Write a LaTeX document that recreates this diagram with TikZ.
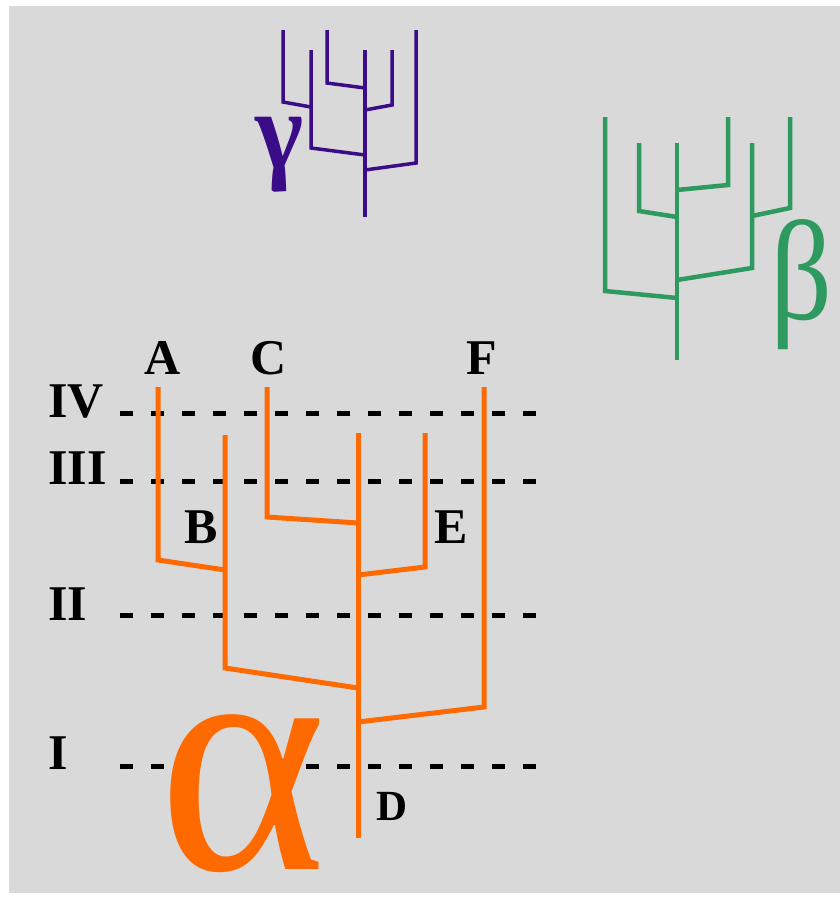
\documentclass[tikz,border=0pt]{standalone}
\usepackage{fontspec}
\setmainfont{Liberation Serif}
\usepackage{graphicx}
\definecolor{bg}{HTML}{D9D9DA}
\definecolor{orng}{HTML}{FF6A00}
\definecolor{grn}{HTML}{2E9A60}
\definecolor{purp}{HTML}{3A0C88}
\tikzset{
  lab/.style={font=\fontsize{50}{50}\selectfont\bfseries, inner sep=0pt, text=black},
  lvl/.style={font=\fontsize{50}{50}\selectfont\bfseries, inner sep=0pt, anchor=west, text=black},
  lvldash/.style={draw=black, line width=5pt, dash pattern=on 13pt off 18pt},
  otree/.style={draw=orng, line width=5pt, miter limit=4},
  gtree/.style={draw=grn, line width=4.5pt},
  ptree/.style={draw=purp, line width=3.5pt},
}
\begin{document}
\begin{tikzpicture}[x=1pt,y=-1pt]
\useasboundingbox (0,0) rectangle (840,897);
\fill[bg] (9,6) rectangle (840,893);

% level lines
\node[lvl] (IV) at (48,402) {IV};
\node[lvl] (III) at (48,468) {III};
\node[lvl] (II) at (48,604) {II};
\node[lvl] (I) at (48,753) {I};
\coordinate (d4a) at (120,413); \coordinate (d4b) at (542,413);
\coordinate (d3a) at (120,481); \coordinate (d3b) at (542,481);
\coordinate (d2a) at (120,615); \coordinate (d2b) at (542,615);
\coordinate (d1a) at (120,766); \coordinate (d1b) at (164,766);
\coordinate (d1c) at (306,766); \coordinate (d1d) at (542,766);
\draw[lvldash] (d4a) -- (d4b);
\draw[lvldash] (d3a) -- (d3b);
\draw[lvldash] (d2a) -- (d2b);
\draw[lvldash] (d1a) -- (d1b);
\draw[lvldash] (d1c) -- (d1d);

% orange tree (alpha)
\coordinate (a1) at (158,387); \coordinate (a2) at (158,560); \coordinate (a3) at (225,570);
\coordinate (b1) at (225,435); \coordinate (b2) at (225,668); \coordinate (b3) at (358,688);
\coordinate (c1) at (267,387); \coordinate (c2) at (267,517); \coordinate (c3) at (358,523);
\coordinate (t1) at (358,433); \coordinate (t2) at (358,838);
\coordinate (e1) at (425,433); \coordinate (e2) at (425,567); \coordinate (e3) at (358,575);
\coordinate (f1) at (484,387); \coordinate (f2) at (484,707); \coordinate (f3) at (358,722);
\draw[otree] (a1) -- (a2) -- (a3);
\draw[otree] (b1) -- (b2) -- (b3);
\draw[otree] (c1) -- (c2) -- (c3);
\draw[otree] (t1) -- (t2);
\draw[otree] (e1) -- (e2) -- (e3);
\draw[otree] (f1) -- (f2) -- (f3);

\node[lab] (A) at (163,358) {A};
\node[lab] (C) at (269,358) {C};
\node[lab] (F) at (482,358) {F};
\node[lab] (B) at (201,527) {B};
\node[lab] (E) at (451,527) {E};
\node[lab, font=\fontsize{43}{43}\selectfont\bfseries] (D) at (392,806) {D};
\node[inner sep=0pt, text=orng] (alpha) at (243,794) {\resizebox*{168pt}{158pt}{α}};

% green tree (beta)
\coordinate (g1a) at (605,117); \coordinate (g1b) at (605,291); \coordinate (g1c) at (677,298);
\coordinate (g2a) at (639,143); \coordinate (g2b) at (639,211); \coordinate (g2c) at (677,217);
\coordinate (gta) at (677,143); \coordinate (gtb) at (677,360);
\coordinate (g3a) at (728,117); \coordinate (g3b) at (728,185); \coordinate (g3c) at (677,190);
\coordinate (g4a) at (752,143); \coordinate (g4b) at (752,268); \coordinate (g4c) at (677,280);
\coordinate (g5a) at (790,117); \coordinate (g5b) at (790,208); \coordinate (g5c) at (752,216);
\draw[gtree] (g1a) -- (g1b) -- (g1c);
\draw[gtree] (g2a) -- (g2b) -- (g2c);
\draw[gtree] (gta) -- (gtb);
\draw[gtree] (g3a) -- (g3b) -- (g3c);
\draw[gtree] (g4a) -- (g4b) -- (g4c);
\draw[gtree] (g5a) -- (g5b) -- (g5c);
\node[inner sep=0pt, text=grn] (beta) at (802,285) {\resizebox*{62pt}{130pt}{β}};

% purple tree (gamma)
\coordinate (p1a) at (283,30); \coordinate (p1b) at (283,102); \coordinate (p1c) at (311,107);
\coordinate (p2a) at (311,50); \coordinate (p2b) at (311,148); \coordinate (p2c) at (365,155);
\coordinate (p3a) at (327,30); \coordinate (p3b) at (327,83); \coordinate (p3c) at (365,88);
\coordinate (pta) at (365,50); \coordinate (ptb) at (365,217);
\coordinate (p4a) at (392,50); \coordinate (p4b) at (392,105); \coordinate (p4c) at (365,110);
\coordinate (p5a) at (416,30); \coordinate (p5b) at (416,163); \coordinate (p5c) at (365,170);
\draw[ptree] (p1a) -- (p1b) -- (p1c);
\draw[ptree] (p2a) -- (p2b) -- (p2c);
\draw[ptree] (p3a) -- (p3b) -- (p3c);
\draw[ptree] (pta) -- (ptb);
\draw[ptree] (p4a) -- (p4b) -- (p4c);
\draw[ptree] (p5a) -- (p5b) -- (p5c);
\node[inner sep=0pt, text=purp] (gamma) at (280,155) {\resizebox*{48pt}{75pt}{\bfseries γ}};
\end{tikzpicture}
\end{document}
